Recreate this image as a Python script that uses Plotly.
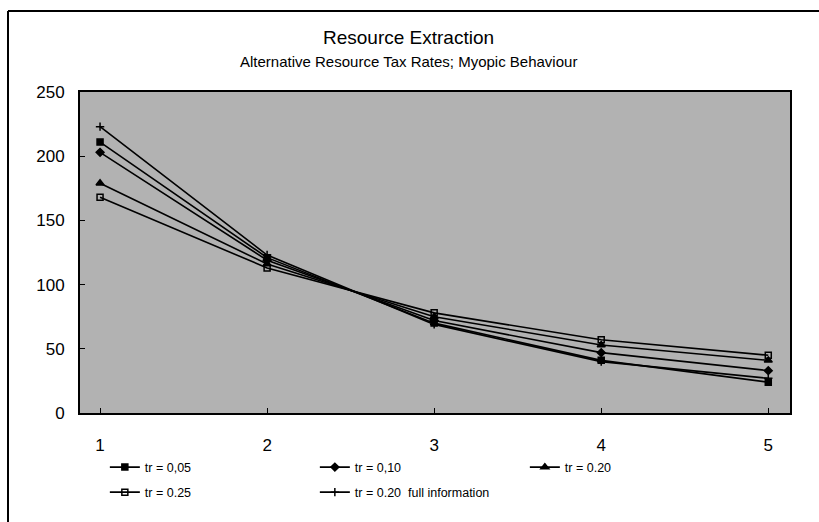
import plotly.graph_objects as go

periods = [1, 2, 3, 4, 5]
tr_005 = [211, 121, 70, 41, 24]
tr_010 = [203, 119, 72, 47, 33]
tr_020 = [179, 116, 75, 53, 41]
tr_025 = [168, 113, 78, 57, 45]
tr_020_full = [223, 123, 69, 40, 27]

series = [
    ("tr = 0,05", tr_005, "square", 6, "legend"),
    ("tr = 0,10", tr_010, "diamond", 6, "legend"),
    ("tr = 0.20", tr_020, "triangle-up", 7, "legend"),
    ("tr = 0.25", tr_025, "square-open", 6, "legend2"),
    ("tr = 0.20  full information", tr_020_full, "cross-thin-open", 6, "legend2"),
]

fig = go.Figure()
for name, vals, sym, sz, leg in series:
    fig.add_trace(go.Scatter(
        x=periods, y=vals, name=name, mode="lines+markers", legend=leg,
        line=dict(color="black", width=1.6),
        marker=dict(symbol=sym, size=sz, color="black",
                    line=dict(color="black", width=1.5)),
    ))

narrow = "Liberation Sans Narrow, Arial Narrow, Liberation Sans, Arial, sans-serif"
legend_style = dict(
    orientation="h", x=0.035, xanchor="left", yanchor="top",
    entrywidth=165, entrywidthmode="pixels",
    font=dict(family=narrow, size=12.5, color="black"),
    bgcolor="rgba(0,0,0,0)", tracegroupgap=0,
)

fig.update_layout(
    width=819, height=522,
    margin=dict(l=80, r=29, t=92, b=109),
    paper_bgcolor="white",
    plot_bgcolor="#b2b2b2",
    showlegend=True,
    legend=dict(y=-0.123, **legend_style),
    legend2=dict(y=-0.201, **legend_style),
    xaxis=dict(
        range=[0.88, 5.13], tickvals=periods, ticktext=[str(p) for p in periods],
        showgrid=False, zeroline=False, showline=True, mirror=True,
        linecolor="black", linewidth=2, ticks="inside", ticklen=5,
        tickcolor="black", ticklabelstandoff=16,
        tickfont=dict(family="Liberation Sans, Arial, sans-serif", size=17, color="black"),
    ),
    yaxis=dict(
        range=[0, 250], tickvals=[0, 50, 100, 150, 200, 250],
        showgrid=False, zeroline=False, showline=True, mirror=True,
        linecolor="black", linewidth=2, ticks="inside", ticklen=5,
        tickcolor="black", ticklabelstandoff=10,
        tickfont=dict(family=narrow, size=17, color="black"),
    ),
    annotations=[
        dict(text="Resource Extraction", xref="paper", yref="paper",
             x=0.462, y=1.0 + (92 - 38) / 321, xanchor="center", yanchor="middle",
             showarrow=False, font=dict(family=narrow, size=19, color="black")),
        dict(text="Alternative Resource Tax Rates; Myopic Behaviour", xref="paper", yref="paper",
             x=0.462, y=1.0 + (92 - 61) / 321, xanchor="center", yanchor="middle",
             showarrow=False, font=dict(family=narrow, size=15, color="black")),
    ],
    shapes=[
        dict(type="line", xref="paper", yref="paper",
             x0=(8 - 80) / 710, x1=(819 - 80) / 710,
             y0=1.0 + (92 - 11) / 321, y1=1.0 + (92 - 11) / 321,
             line=dict(color="black", width=2)),
        dict(type="line", xref="paper", yref="paper",
             x0=(8 - 80) / 710, x1=(8 - 80) / 710,
             y0=1.0 + (92 - 11) / 321, y1=(413 - 522) / 321,
             line=dict(color="black", width=2)),
    ],
)

fig.write_html("out.html", config={"displayModeBar": False},
               post_script="document.body.style.margin='0';")
